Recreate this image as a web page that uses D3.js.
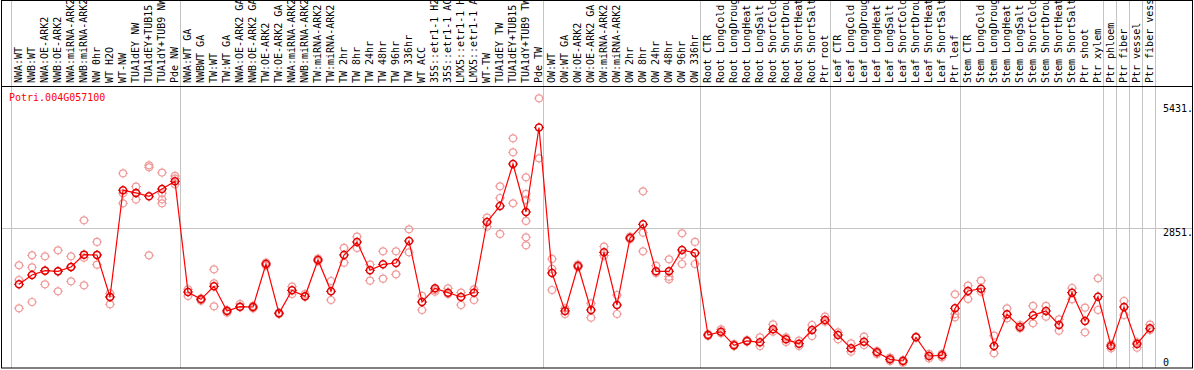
<!DOCTYPE html>
<html>
<head>
<meta charset="utf-8">
<script src="https://cdn.jsdelivr.net/npm/d3@7"></script>
<style>
  body { margin: 0; background: #fff; }
  svg { display: block; }
  text { font-family: "DejaVu Sans Mono", monospace; font-size: 10px; }
</style>
</head>
<body>
<div id="chart"></div>
<script>
// Sample names, one per column
let sampleLabels = [
  "NWA:WT", "NWB:WT", "NWA:OE-ARK2", "NWB:OE-ARK2", "NWA:miRNA-ARK2", "NWB:miRNA-ARK2",
  "NW 0hr", "WT H2O", "WT-NW", "TUA1dEY NW", "TUA1dEY+TUB15 NW", "TUA1dY+TUB9 NW", "Pde NW",
  "NWA:WT GA", "NWBWT GA", "TW:WT", "TW:WT GA", "NWA:OE-ARK2 GA", "NWB:OE-ARK2 GA",
  "TW:OE-ARK2", "TW:OE-ARK2 GA", "NWA:miRNA-ARK2", "NWB:miRNA-ARK2", "TW:miRNA-ARK2", "TW:miRNA-ARK2",
  "TW 2hr", "TW 8hr", "TW 24hr", "TW 48hr", "TW 96hr", "TW 336hr", "WT ACC",
  "35S::etr1-1 H2O", "35S::etr1-1 ACC", "LMX5::etr1-1 H2O", "LMX5::etr1-1 ACC",
  "WT-TW", "TUA1dEY TW", "TUA1dEY+TUB15 TW", "TUA1dY+TUB9 TW", "Pde TW",
  "OW:WT", "OW:WT GA", "OW:OE-ARK2", "OW:OE-ARK2 GA", "OW:miRNA-ARK2", "OW:miRNA-ARK2",
  "OW 2hr", "OW 8hr", "OW 24hr", "OW 48hr", "OW 96hr", "OW 336hr",
  "Root CTR", "Root LongCold", "Root LongDrought", "Root LongHeat", "Root LongSalt",
  "Root ShortCold", "Root ShortDrought", "Root ShortHeat", "Root ShortSalt", "Ptr root",
  "Leaf CTR", "Leaf LongCold", "Leaf LongDrought", "Leaf LongHeat", "Leaf LongSalt",
  "Leaf ShortCold", "Leaf ShortDrought", "Leaf ShortHeat", "Leaf ShortSalt", "Ptr leaf",
  "Stem CTR", "Stem LongCold", "Stem LongDrought", "Stem LongHeat", "Stem LongSalt",
  "Stem ShortCold", "Stem ShortDrought", "Stem ShortHeat", "Stem ShortSalt", "Ptr shoot", "Ptr xylem",
  "Ptr phloem", "Ptr fiber", "Ptr vessel", "Ptr fiber vessel"
];

// Column indexes where a new experiment group starts
let groupBreaks = [0, 13, 41, 53, 63, 73, 84, 85, 86, 87, 88];

// Mean expression per sample
let meanValues = [
  1691, 1885, 1974, 1960, 2050, 2306, 2299, 1429, 3638, 3583, 3514, 3666, 3824,
  1532, 1381, 1650, 1139, 1229, 1222, 2112, 1091, 1567, 1443, 2195, 1546, 2299, 2568,
  1981, 2105, 2133, 2589, 1325, 1608, 1519, 1429, 1519, 2982, 3313, 4183, 3189, 4936,
  1926, 1139, 2071, 1160, 2354, 1263, 2651, 2934, 1960, 1960, 2402, 2340,
  642, 711, 428, 518, 490, 759, 552, 462, 746, 953,
  642, 366, 504, 283, 138, 104, 594, 207, 221, 1194,
  1553, 1601, 414, 1070, 808, 1049, 1139, 849, 1519, 932, 1436,
  414, 1222, 456, 780
];

// Individual replicate values per sample
let replicateValues = [
  [2085, 1781, 1194], [2292, 2043, 1325], [2271, 1974, 1691], [2395, 1960, 1546],
  [2271, 2050, 1753], [3017, 2243, 1671], [2568, 2299, 2099], [1505, 1429, 1277],
  [3990, 3576, 3369], [3714, 3583, 3445], [4156, 4114, 2292], [4004, 3576, 3452, 3369],
  [3935, 3879, 3762],
  [1588, 1450], [1401, 1353], [2002, 1712, 1236], [1160, 1104], [1284, 1215], [1243, 1194],
  [2140, 2078], [1104, 1077], [1643, 1491], [1491, 1436], [2223, 2168], [1760, 1367],
  [2444, 2140], [2678, 2444], [2099, 1767], [2375, 1809], [2375, 1898], [2830, 2354],
  [1450, 1160], [1539, 1574], [1608, 1491], [1519, 1263], [1588, 1367], [3072, 2885],
  [3721, 3479, 2734], [4715, 4425, 3369], [3907, 3562, 3438, 3003, 2665, 2499], [5543, 4301],
  [2216, 2009, 1574], [1194, 1077], [2099, 2043], [1298, 1001], [2471, 2285], [1470, 1077],
  [2678, 2623], [3617, 2761, 2375], [2078, 1926], [2209, 1850, 1795], [2747, 2299, 2112],
  [2568, 2112],
  [621, 663], [759, 676], [456, 414], [538, 502], [594, 414], [863, 711], [594, 497],
  [525, 414], [849, 621], [1022, 918],
  [697, 552], [469, 297], [607, 435], [311, 249], [173, 104], [124, 69], [607], [249, 159],
  [249, 179], [1484, 1077, 1008],
  [1664, 1388], [1767, 1539], [628, 262], [1194, 987], [849, 780], [1243, 884], [1243, 1022],
  [966, 732], [1615, 1381], [1208, 697], [1815, 1160],
  [449, 366], [1346, 1056], [490, 380], [856, 746]
];

let yTicks = [0, 2851, 5431];
let geneName = "Potri.004G057100";

// Layout
let svgWidth = 1194, svgHeight = 370;
let colStart = 10.5, colWidth = 13, dotOffset = 8.5;
let headerBottom = 86.5, plotBottom = 366;

let svg = d3.select('#chart')
            .append('svg')
            .attr('width', svgWidth)
            .attr('height', svgHeight);

let xScale = d3.scaleLinear()
                .domain([0, sampleLabels.length])
                .range([colStart, colStart + sampleLabels.length * colWidth]);
let yScale = d3.scaleLinear()
                .domain([0, 5431])
                .range([plotBottom, 103.7]);

let dotX = i => xScale(i) + dotOffset;

// Group separators (full height, also through the header)
svg.append('g')
    .selectAll('line')
    .data(groupBreaks)
    .enter()
    .append('line')
    .attr('x1', d => Math.round(xScale(d)) + 0.5)
    .attr('x2', d => Math.round(xScale(d)) + 0.5)
    .attr('y1', 0)
    .attr('y2', 368)
    .attr('stroke', '#c4c4c4')
    .attr('stroke-width', 1);

// Horizontal grid at middle tick
svg.append('line')
    .attr('x1', 1).attr('x2', 1193)
    .attr('y1', Math.round(yScale(2851)) + 0.5)
    .attr('y2', Math.round(yScale(2851)) + 0.5)
    .attr('stroke', '#c4c4c4');

// Frame and header separator
svg.append('rect')
    .attr('x', 1.5).attr('y', 0.5)
    .attr('width', 1191).attr('height', 367.5)
    .attr('fill', 'none')
    .attr('stroke', '#000');
svg.append('line')
    .attr('x1', 1).attr('x2', 1193)
    .attr('y1', headerBottom).attr('y2', headerBottom)
    .attr('stroke', '#000');

// Sample names, rotated
svg.append('g')
    .selectAll('text')
    .data(sampleLabels)
    .enter()
    .append('text')
    .attr('transform', (d, i) => `translate(${dotX(i) + 3}, 83) rotate(-90)`)
    .attr('fill', '#000')
    .text(d => d);

// Gene name
svg.append('text')
    .attr('x', 9)
    .attr('y', 101)
    .attr('fill', '#ff0000')
    .text(geneName);

// Right side value labels
svg.append('g')
    .selectAll('text')
    .data(yTicks)
    .enter()
    .append('text')
    .attr('x', 1163)
    .attr('y', d => Math.min(yScale(d) + 8, 365.5))
    .attr('fill', '#000')
    .text(d => d === 0 ? '0' : d + '.');

// Marker: open circle with four small spikes
function drawMarker(sel, color, width) {
    let r = 3.5;
    sel.append('circle')
        .attr('r', r)
        .attr('fill', 'none')
        .attr('stroke', color)
        .attr('stroke-width', width);
    sel.append('path')
        .attr('d', `M0,${-r - 1.5}V${-r}M0,${r}V${r + 1.5}M${-r - 1.5},0H${-r}M${r},0H${r + 1.5}`)
        .attr('stroke', color)
        .attr('stroke-width', 1);
}

// Replicates
let repData = [];
replicateValues.forEach((arr, i) => arr.forEach(v => repData.push({ i: i, v: v })));

svg.append('g')
    .selectAll('g')
    .data(repData)
    .enter()
    .append('g')
    .attr('transform', d => `translate(${dotX(d.i)}, ${yScale(d.v)})`)
    .call(drawMarker, '#f09a9a', 1.2);

// Mean line
let line = d3.line()
    .x((d, i) => dotX(i))
    .y(d => yScale(d));

svg.append('path')
    .datum(meanValues)
    .attr('d', line)
    .attr('fill', 'none')
    .attr('stroke', '#ff0000')
    .attr('stroke-width', 1.2);

// Means
svg.append('g')
    .selectAll('g')
    .data(meanValues)
    .enter()
    .append('g')
    .attr('transform', (d, i) => `translate(${dotX(i)}, ${yScale(d)})`)
    .call(drawMarker, '#e00000', 1.5);
</script>
</body>
</html>
